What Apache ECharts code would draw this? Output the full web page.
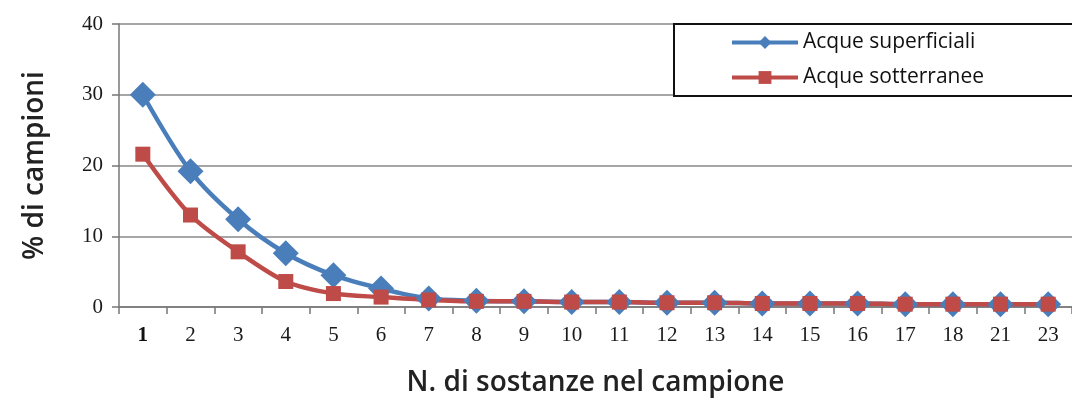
<!DOCTYPE html>
<html><head><meta charset="utf-8">
<script src="https://cdn.jsdelivr.net/npm/echarts@6/dist/echarts.min.js"></script>
<style>html,body{margin:0;padding:0;background:#fff}#c{width:1072px;height:408px}</style>
</head><body><div id="c"></div>
<script>
const categories = ['1','2','3','4','5','6','7','8','9','10','11','12','13','14','15','16','17','18','21','23'];
const superficiali = [30, 19.2, 12.4, 7.6, 4.5, 2.6, 1.2, 0.9, 0.8, 0.7, 0.7, 0.6, 0.6, 0.5, 0.5, 0.5, 0.4, 0.4, 0.4, 0.4];
const sotterranee = [21.6, 13, 7.8, 3.6, 1.9, 1.4, 1.0, 0.8, 0.8, 0.7, 0.7, 0.6, 0.6, 0.5, 0.5, 0.5, 0.4, 0.4, 0.4, 0.4];
const yTicks = [0, 10, 20, 30, 40];
const seriesNames = ['Acque superficiali', 'Acque sotterranee'];

const chart = echarts.init(document.getElementById('c'));
chart.setOption({
  animation: false,
  backgroundColor: '#fff',
  grid: { left: 119, right: -7, top: 24, bottom: 101 },
  legend: {
    orient: 'vertical', left: 674, top: 24,
    data: seriesNames,
    backgroundColor: '#fff', borderColor: '#111', borderWidth: 2,
    padding: [8, 130, 8, 56], itemGap: 14, itemWidth: 66, itemHeight: 16,
    lineStyle: { width: 4 },
    textStyle: { fontFamily: 'Open Sans', fontSize: 21, color: '#111' }
  },
  xAxis: {
    type: 'category', data: categories, boundaryGap: true,
    name: 'N. di sostanze nel campione', nameLocation: 'middle', nameGap: 62,
    nameTextStyle: { fontFamily: 'Open Sans', fontSize: 28, fontWeight: 600, color: '#222' },
    axisLine: { lineStyle: { color: '#777', width: 1.5 } },
    axisTick: { show: true, length: 7, interval: 0, lineStyle: { color: '#777', width: 1.5 } },
    axisLabel: { interval: 0, margin: 18, fontFamily: 'Liberation Serif', fontSize: 21, color: '#1a1a1a',
      formatter: v => v === '1' ? '{b|1}' : v,
      rich: { b: { fontFamily: 'Liberation Serif', fontSize: 21, fontWeight: 'bold', color: '#111' } } }
  },
  yAxis: {
    type: 'value', min: 0, max: 40, interval: 10,
    name: '% di campioni', nameLocation: 'middle', nameGap: 70,
    nameTextStyle: { fontFamily: 'Open Sans', fontSize: 28, fontWeight: 600, color: '#222' },
    axisLine: { show: true, lineStyle: { color: '#777', width: 1.5 } },
    axisTick: { show: true, length: 7, lineStyle: { color: '#777', width: 1.5 } },
    axisLabel: { margin: 16, fontFamily: 'Liberation Serif', fontSize: 21, color: '#1a1a1a',
      formatter: v => yTicks.includes(v) ? String(v) : '' },
    splitLine: { lineStyle: { color: '#888', width: 1.5 } }
  },
  series: [
    { name: seriesNames[0], type: 'line', data: superficiali, smooth: 0.3,
      symbol: 'diamond', symbolSize: 26,
      itemStyle: { color: '#4a7ebb' }, lineStyle: { color: '#4a7ebb', width: 4.5 } },
    { name: seriesNames[1], type: 'line', data: sotterranee, smooth: 0.3,
      symbol: 'rect', symbolSize: 15,
      itemStyle: { color: '#be4b48' }, lineStyle: { color: '#be4b48', width: 4.5 } }
  ]
});
</script></body></html>
